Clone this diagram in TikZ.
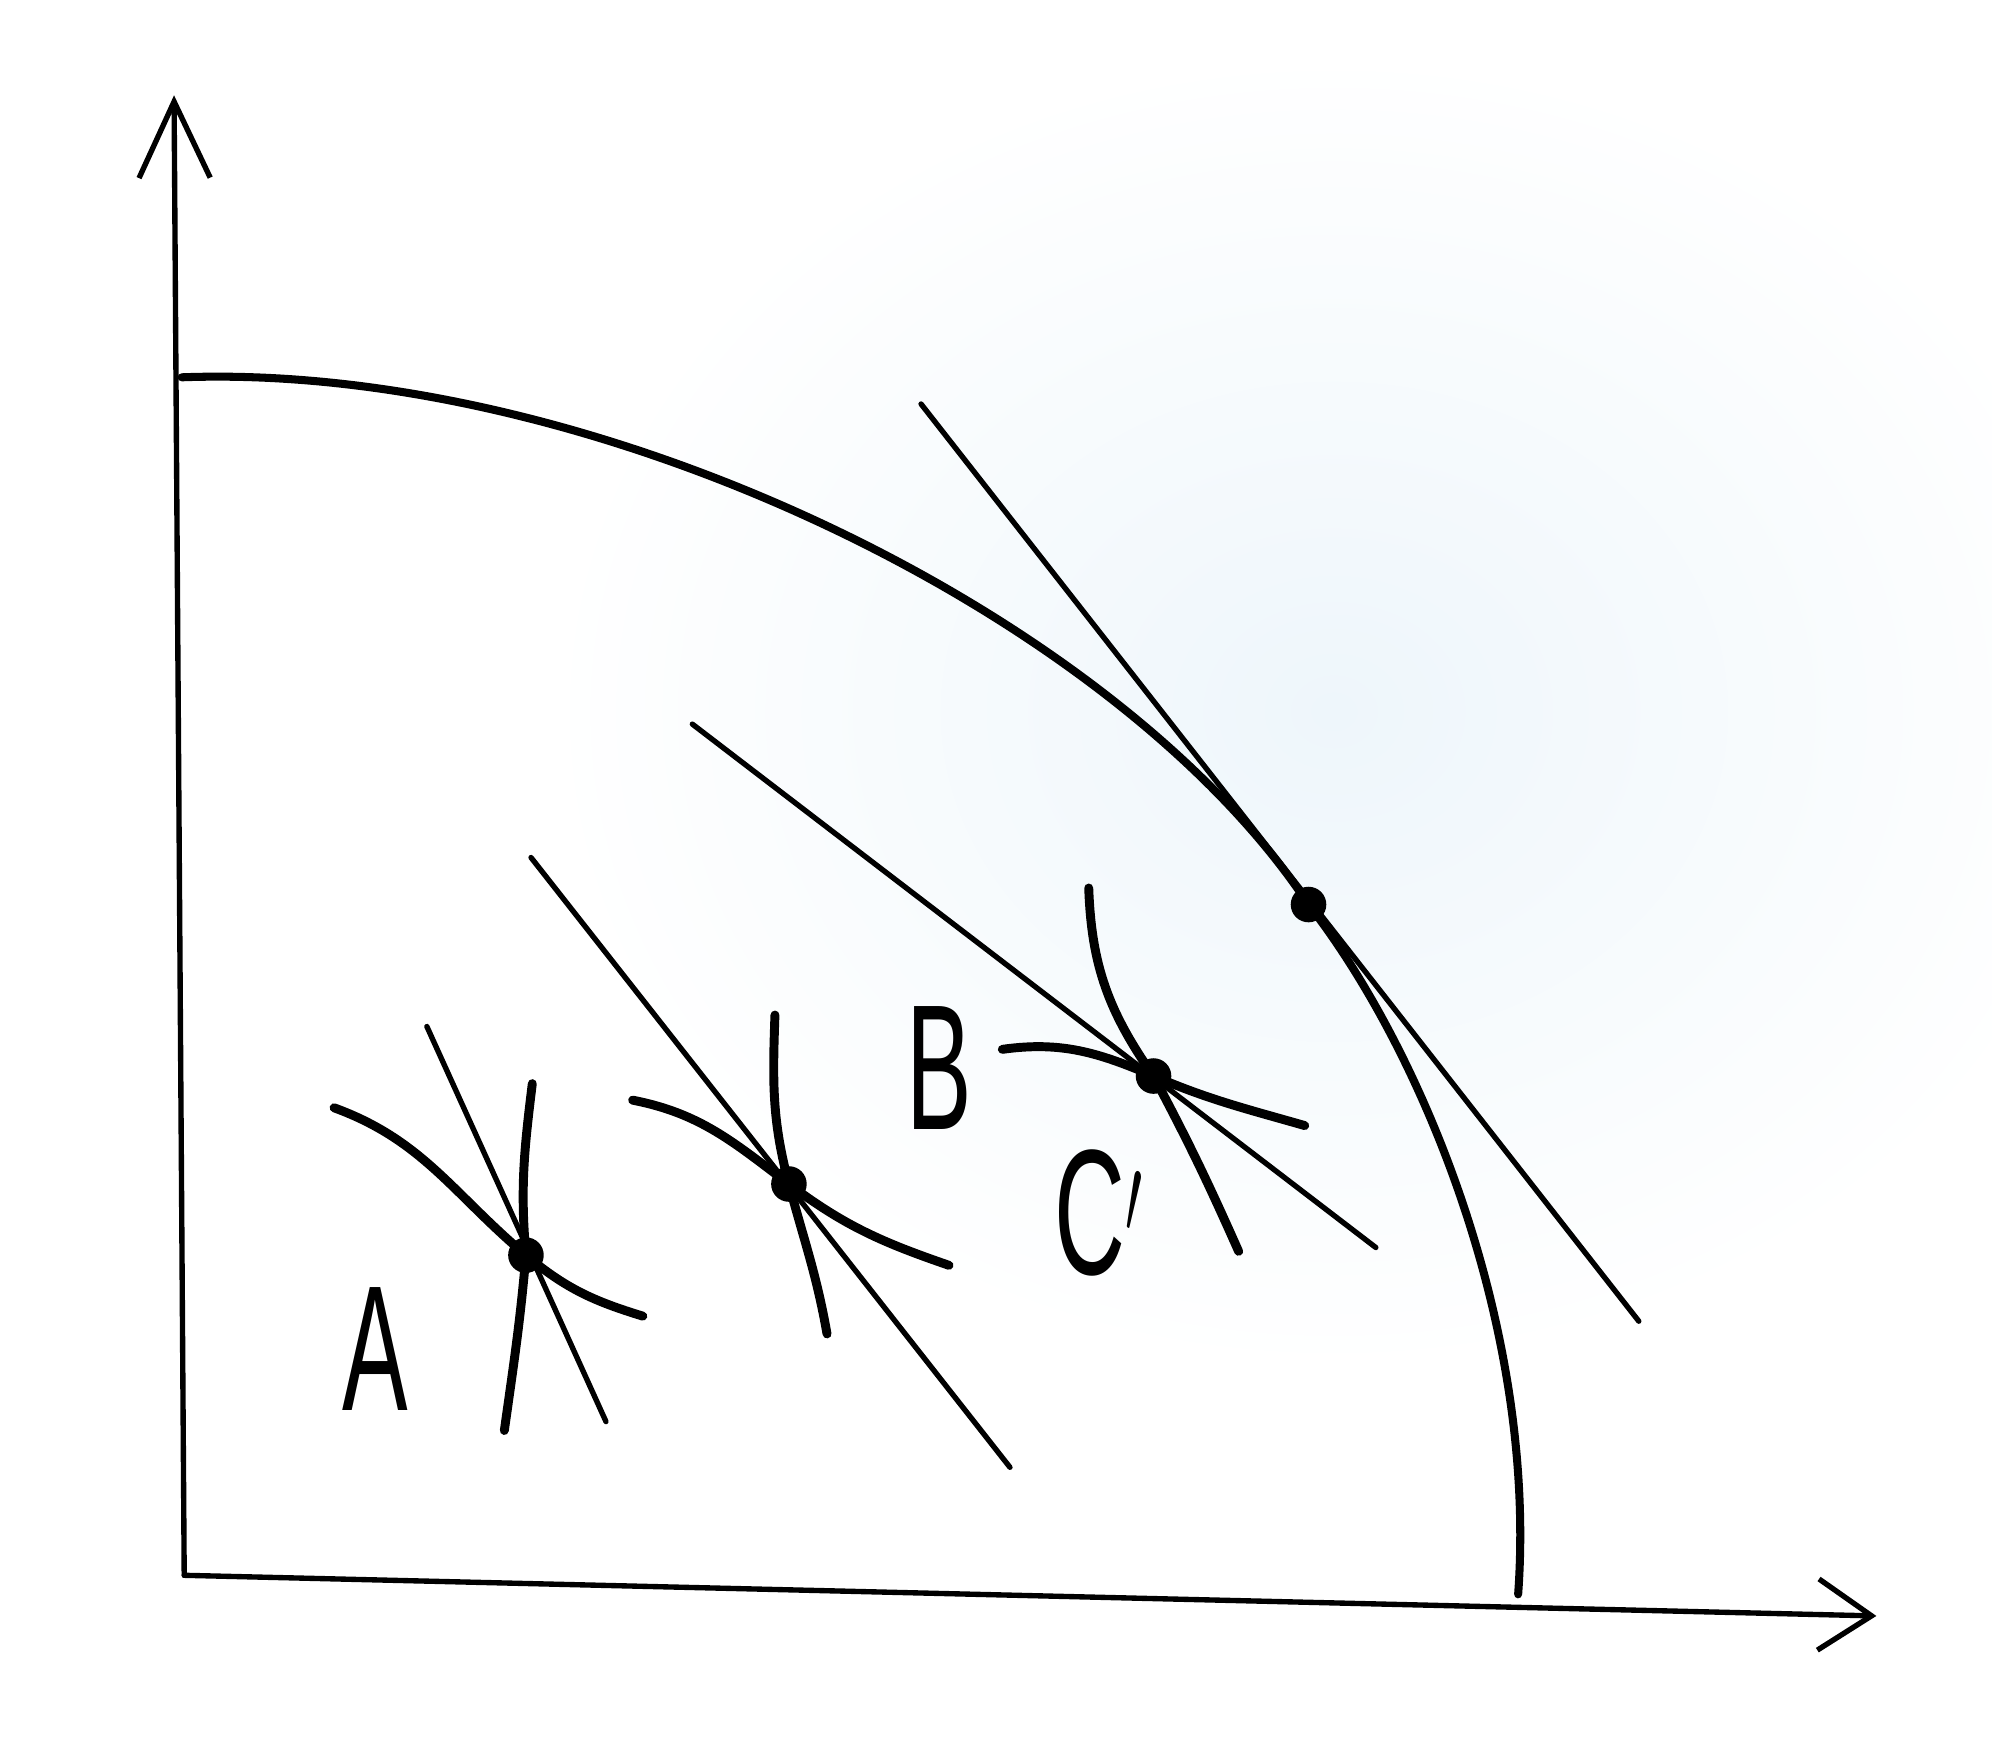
\documentclass[tikz,border=0pt]{standalone}
\usepackage{fontspec}
\setmainfont{Liberation Sans}
\usetikzlibrary{arrows.meta}

\definecolor{paperblue}{RGB}{238,246,251}

\tikzset{
  axisline/.style={line width=1.2pt, line cap=round},
  yarrow/.style={-{Straight Barb[length=6mm,width=5.6mm]}},
  xarrow/.style={-{Straight Barb[length=4.2mm,width=5.6mm]}},
  frontier/.style={line width=1.8pt, line cap=round},
  priceline/.style={line width=1.2pt, line cap=round},
  indiff/.style={line width=2pt, line cap=round},
  bigdot/.style={circle, fill=black, inner sep=0pt, minimum size=2.8mm},
  letter/.style={font=\fontsize{40}{40}\selectfont, xscale=0.55, transform shape, inner sep=0pt, anchor=base west}
}

\begin{document}
\begin{tikzpicture}[x=0.01cm, y=-0.01cm]
  \useasboundingbox (0,0) rectangle (1568,1388);
  % faint paper tint
  \shade[inner color=paperblue, outer color=white] (1050,560) ellipse (620 and 520);

  % axes
  \coordinate (origin) at (145,1240);
  \coordinate (ytip) at (137,75);
  \coordinate (xtip) at (1477,1272);
  \draw[axisline,yarrow] (origin) -- (ytip);
  \draw[axisline,xarrow] (origin) -- (xtip);

  % frontier
  \coordinate (ftop) at (143,297);
  \coordinate (fbot) at (1195,1255);
  \coordinate (touch) at (1030,712);
  \draw[frontier] (ftop) .. controls (470,285) and (880,485) .. (touch)
    .. controls (1122,830) and (1210,1050) .. (fbot);

  % tangent line
  \coordinate (t1) at (725,318);
  \coordinate (t2) at (1290,1040);
  \draw[priceline] (t1) -- (t2);
  \node[bigdot] (E) at (touch) {};

  % point A
  \coordinate (a1) at (336,808);
  \coordinate (a2) at (477,1119);
  \coordinate (a3) at (263,872);
  \coordinate (a4) at (506,1036);
  \coordinate (a5) at (419,853);
  \coordinate (a6) at (397,1126);
  \draw[priceline] (a1) -- (a2);
  \draw[indiff] (a3) to[out=-20,in=140] (414,988) to[out=-40,in=163] (a4);
  \draw[indiff] (a5) to[out=-97,in=95] (414,988) to[out=-95,in=82] (a6);
  \node[bigdot] (A) at (414,988) {};

  % middle point
  \coordinate (m1) at (418,675);
  \coordinate (m2) at (795,1155);
  \coordinate (m3) at (498,866);
  \coordinate (m4) at (747,996);
  \coordinate (m5) at (610,799);
  \coordinate (m6) at (651,1050);
  \draw[priceline] (m1) -- (m2);
  \draw[indiff] (m3) to[out=-11,in=143] (621,932) to[out=-37,in=161] (m4);
  \draw[indiff] (m5) to[out=-92,in=105] (621,932) to[out=-75,in=100] (m6);
  \node[bigdot] (M) at (621,932) {};

  % point near B and C'
  \coordinate (c1) at (545,570);
  \coordinate (c2) at (1083,982);
  \coordinate (c3) at (789,826);
  \coordinate (c4) at (1027,886);
  \coordinate (c5) at (857,699);
  \coordinate (c6) at (975,985);
  \draw[priceline] (c1) -- (c2);
  \draw[indiff] (c3) to[out=8,in=157] (908,847) to[out=-23,in=164] (c4);
  \draw[indiff] (c5) to[out=-88,in=125] (908,847) to[out=-62,in=114] (c6);
  \node[bigdot] (C) at (908,847) {};

  % labels
  \node[letter] (labA) at (269,1110) {A};
  \node[letter] (labB) at (713,889) {B};
  \node[letter] (labC) at (830,1003) {C$'$};
\end{tikzpicture}
\end{document}
